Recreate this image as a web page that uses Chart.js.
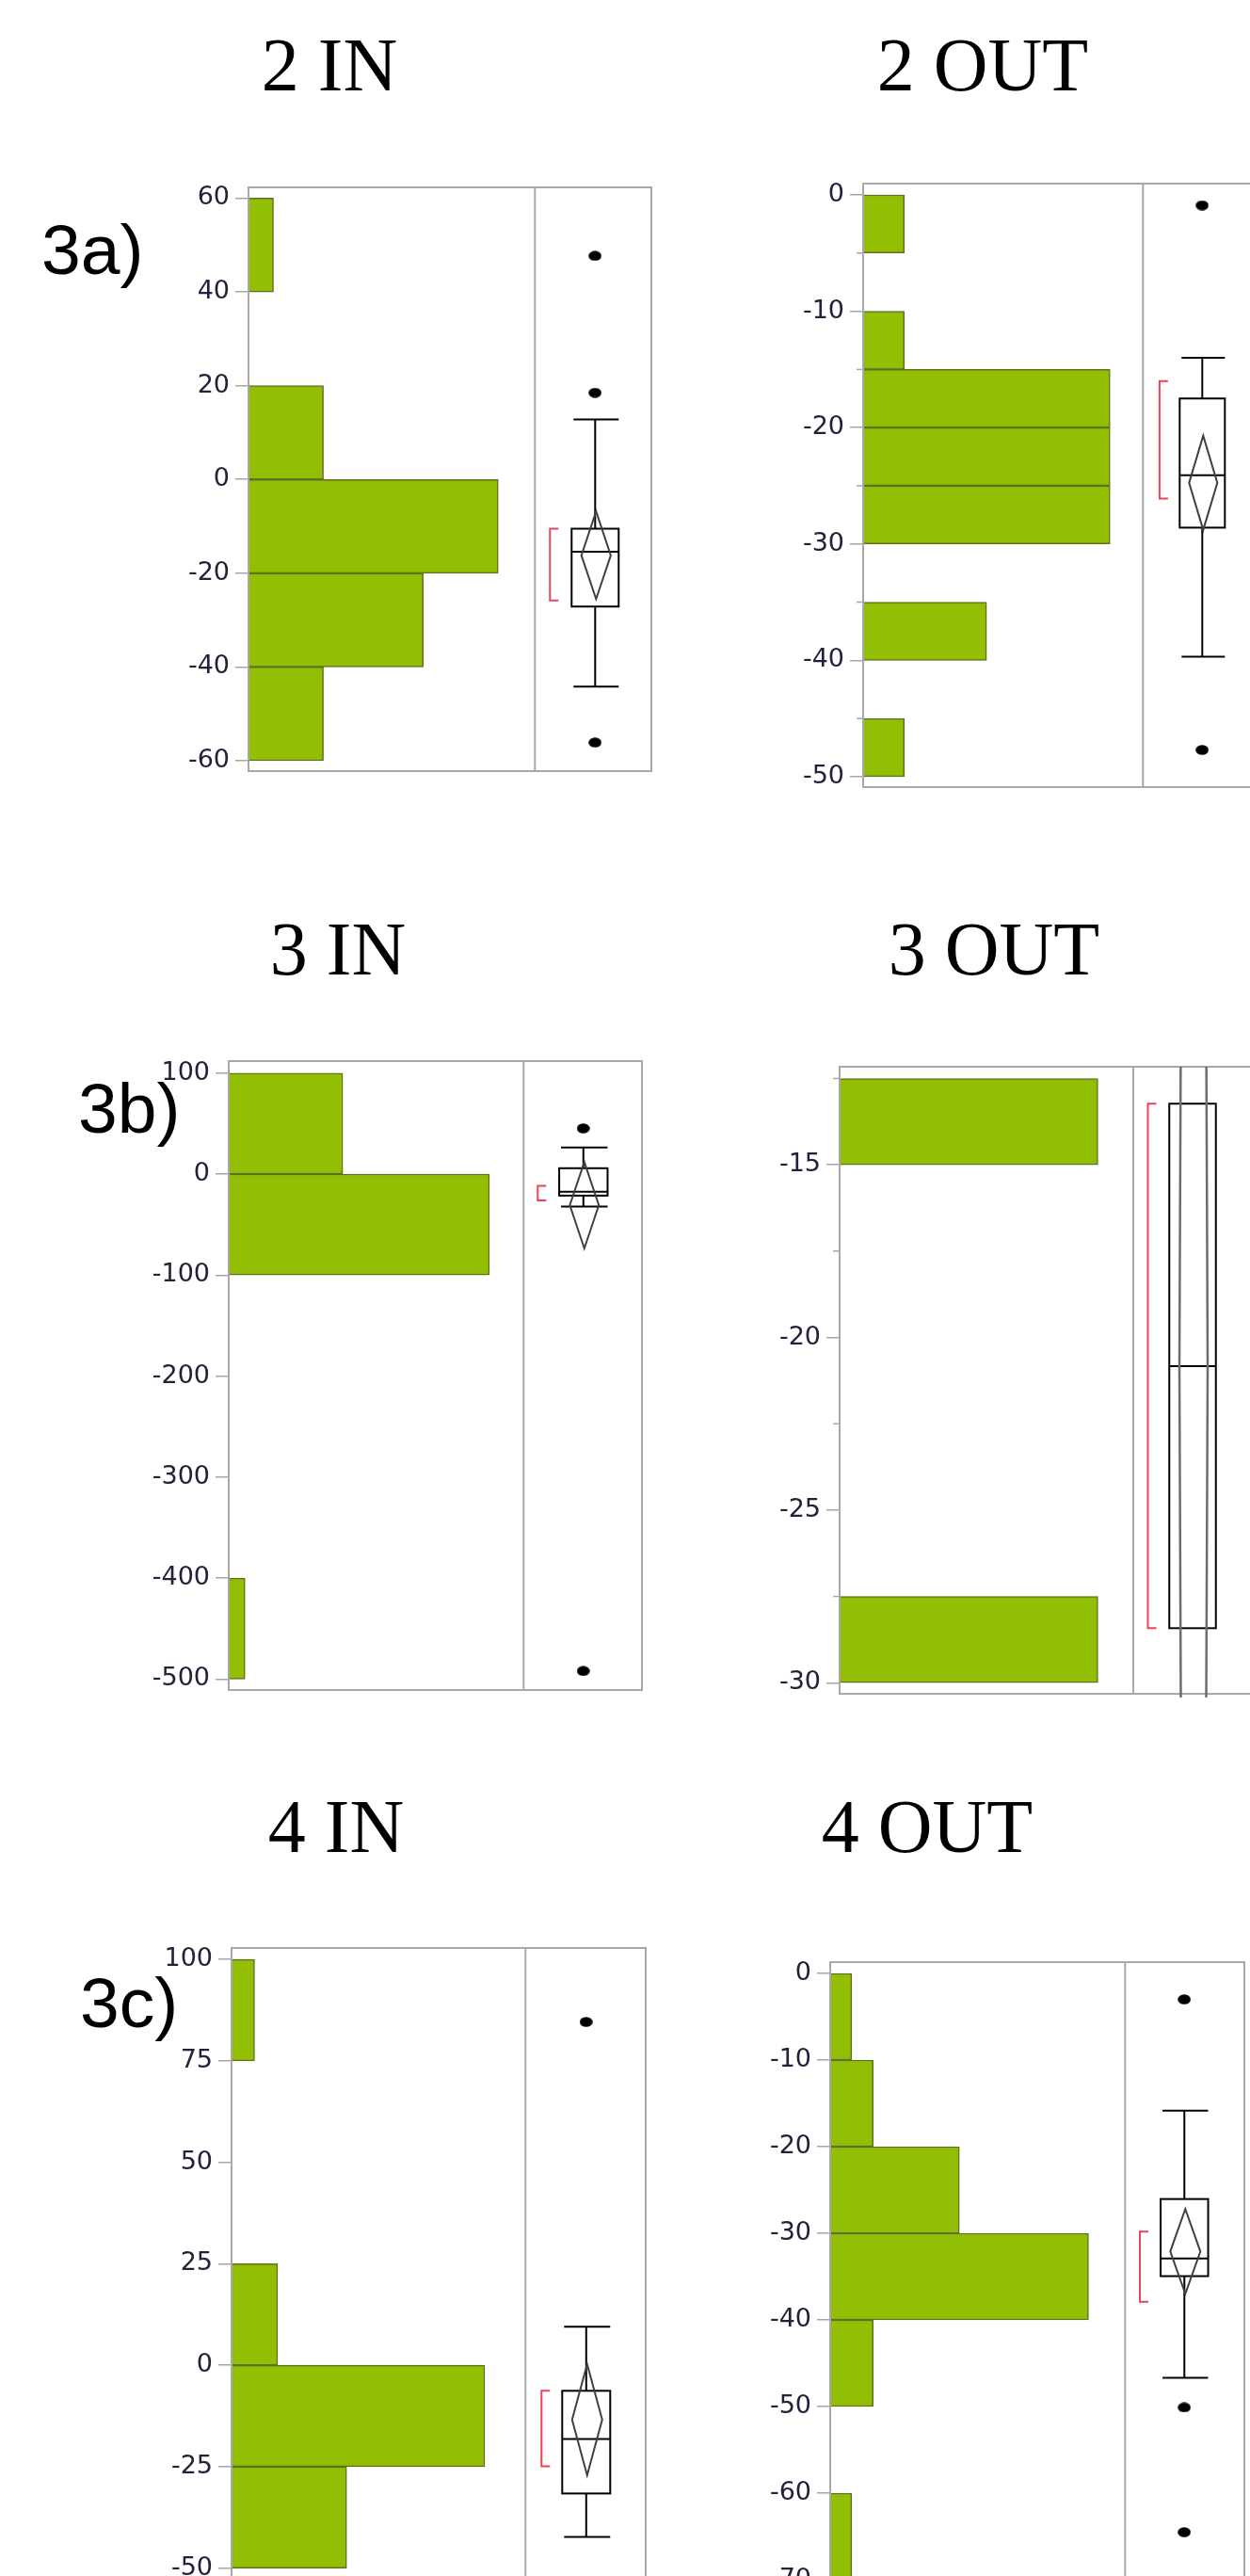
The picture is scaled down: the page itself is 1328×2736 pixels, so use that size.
<!DOCTYPE html>
<html><head><meta charset="utf-8">
<script src="https://cdn.jsdelivr.net/npm/chart.js@4.4.0/dist/chart.umd.min.js"></script>
<style>
html,body{margin:0;padding:0;background:#fff;width:1328px;height:2736px;overflow:hidden;position:relative}
canvas{position:absolute;display:block}
.title{position:absolute;width:400px;text-align:center;font-family:"Liberation Serif",serif;font-size:80px;line-height:80px;color:#000;white-space:nowrap;z-index:4}
.lab{position:absolute;font-family:"Liberation Sans",sans-serif;font-size:75px;line-height:75px;color:#000;white-space:nowrap;z-index:5}
</style></head><body>
<script>
// ---------------- DATA ----------------
const panelTitles = ['2 IN', '2 OUT', '3 IN', '3 OUT', '4 IN', '4 OUT'];
const panelLabels = ['3a)', '3b)', '3c)'];

// 2 IN
const in2BinCenters = [50, 30, 10, -10, -30, -50];
const in2Counts     = [1, 0, 3, 10, 7, 3];
const in2Ticks      = [60, 40, 20, 0, -20, -40, -60];
const in2Outliers   = [47.7, 18.5, -56.1];
const in2Box        = [-44.2, -27.1, -15.4, -10.5, 12.8];   // whisker low, Q1, median, Q3, whisker high
const in2Mean       = [-25.5, -16.2, -6.8];                 // diamond low, mean, diamond high
const in2Shortest   = [-25.8, -10.5];

// 2 OUT
const out2BinCenters = [-2.5, -7.5, -12.5, -17.5, -22.5, -27.5, -32.5, -37.5, -42.5, -47.5];
const out2Counts     = [1, 0, 1, 6, 6, 6, 0, 3, 0, 1];
const out2Ticks      = [0, -10, -20, -30, -40, -50];
const out2MinorTicks = [-5, -15, -25, -35, -45];
const out2Outliers   = [-0.9, -47.7];
const out2Box        = [-39.7, -28.6, -24.1, -17.5, -14.0];
const out2Mean       = [-28.8, -24.75, -20.7];
const out2Shortest   = [-26.1, -16.0];

// 3 IN
const in3BinCenters = [50, -50, -150, -250, -350, -450];
const in3Counts     = [7, 16, 0, 0, 0, 1];
const in3Ticks      = [100, 0, -100, -200, -300, -400, -500];
const in3Outliers   = [45.3, -492];
const in3Box        = [-32.2, -21.3, -17.4, 5.8, 26.3];
const in3Mean       = [-73.6, -30.8, 12];
const in3Shortest   = [-26, -11.7];

// 3 OUT
const out3BinCenters = [-13.75, -16.25, -18.75, -21.25, -23.75, -26.25, -28.75];
const out3Counts     = [1, 0, 0, 0, 0, 0, 1];
const out3Ticks      = [-15, -20, -25, -30];
const out3MinorTicks = [-12.5, -17.5, -22.5, -27.5];
const out3Outliers   = [];
const out3Box        = [-28.42, -28.42, -20.83, -13.23, -13.23];
const out3Mean       = [-117.3, -20.83, 75.7];
const out3Shortest   = [-28.42, -13.23];

// 4 IN
const in4BinCenters = [87.5, 62.5, 37.5, 12.5, -12.5, -37.5, -62.5];
const in4Counts     = [1, 0, 0, 2, 11, 5, 0];
const in4Ticks      = [100, 75, 50, 25, 0, -25, -50, -75];
const in4Outliers   = [84.6];
const in4Box        = [-42.3, -31.6, -18.2, -6.3, 9.5];
const in4Mean       = [-27.1, -13.4, 0.25];
const in4Shortest   = [-24.9, -6.3];

// 4 OUT
const out4BinCenters = [-5, -15, -25, -35, -45, -55, -65];
const out4Counts     = [1, 2, 6, 12, 2, 0, 1];
const out4Ticks      = [0, -10, -20, -30, -40, -50, -60, -70];
const out4Outliers   = [-3.0, -50.1, -64.5];
const out4Box        = [-46.7, -34.95, -32.9, -26.05, -15.85];
const out4Mean       = [-37.0, -32.1, -27.2];
const out4Shortest   = [-37.9, -29.8];

// ---------------- LAYOUT (positions / sizes) ----------------
const AXIS_W = 90, PAD_T = 24, PAD_B = 24, PAD_R = 6;
const GREEN = '#92bf04', OLIVE = '#5f7021', FRAME = '#a8a8a8';

const panels = [
  {title:0, centers:in2BinCenters, counts:in2Counts, ticks:in2Ticks, minor:[], outliers:in2Outliers, box:in2Box, mean:in2Mean, shortest:in2Shortest,
   l:264, t:199, r:693, b:819, d:569, yMin:-62.2, yMax:62.3, histMax:11.47, off:64, half:25, dia:15.6, br:16},
  {title:1, centers:out2BinCenters, counts:out2Counts, ticks:out2Ticks, minor:out2MinorTicks, outliers:out2Outliers, box:out2Box, mean:out2Mean, shortest:out2Shortest,
   l:917, t:195, r:1339, b:836, d:1215, yMin:-50.9, yMax:0.97, histMax:6.8, off:63, half:24, dia:15, br:17.6},
  {title:2, centers:in3BinCenters, counts:in3Counts, ticks:in3Ticks, minor:[], outliers:in3Outliers, box:in3Box, mean:in3Mean, shortest:in3Shortest,
   l:243, t:1127, r:683, b:1795, d:557, yMin:-510.9, yMax:111.9, histMax:18.1, off:63.5, half:25.7, dia:15.4, br:15},
  {title:3, centers:out3BinCenters, counts:out3Counts, ticks:out3Ticks, minor:out3MinorTicks, outliers:out3Outliers, box:out3Box, mean:out3Mean, shortest:out3Shortest,
   l:892, t:1133, r:1330, b:1799, d:1204, yMin:-30.32, yMax:-12.16, histMax:1.137, off:63, half:24.75, dia:15, br:15.5, clipDiamond:true},
  {title:4, centers:in4BinCenters, counts:in4Counts, ticks:in4Ticks, minor:[], outliers:in4Outliers, box:in4Box, mean:in4Mean, shortest:in4Shortest,
   l:246, t:2069, r:687, b:2857, d:559, yMin:-80, yMax:102.8, histMax:12.77, off:64.5, half:25.5, dia:16, br:17},
  {title:5, centers:out4BinCenters, counts:out4Counts, ticks:out4Ticks, minor:[], outliers:out4Outliers, box:out4Box, mean:out4Mean, shortest:out4Shortest,
   l:882, t:2084, r:1323, b:2832, d:1196, yMin:-80, yMax:1.3, histMax:13.7, off:63, half:25.25, dia:16, br:15.7}
];

const titlePos = [ {cx:350, base:96}, {cx:1044, base:96}, {cx:359, base:1035}, {cx:1056, base:1035}, {cx:357, base:1967}, {cx:985, base:1967} ];
const labelPos = [ {x:44, base:291}, {x:83, base:1203}, {x:85, base:2153} ];

// dot image for outliers
const dot = document.createElement('canvas');
dot.width = 14; dot.height = 11;
{ const c = dot.getContext('2d'); c.fillStyle = '#000'; c.beginPath(); c.ellipse(7, 5.5, 6.8, 5.3, 0, 0, Math.PI*2); c.fill(); }

const boxPlugin = {
  id: 'boxPlugin',
  afterDatasetsDraw(chart) {
    const p = chart.options.plugins.boxPlugin;
    const ctx = chart.ctx, a = chart.chartArea, ys = chart.scales.y, xs = chart.scales.x;
    const dx = xs.getPixelForValue(p.histMax);
    const cx = dx + p.off;
    ctx.save();
    // frame
    ctx.strokeStyle = FRAME; ctx.lineWidth = 2;
    ctx.strokeRect(a.left, a.top, a.right - a.left, a.bottom - a.top);
    ctx.beginPath(); ctx.moveTo(dx, a.top); ctx.lineTo(dx, a.bottom); ctx.stroke();
    // minor ticks
    ctx.lineWidth = 1.5;
    p.minor.forEach(v => { const y = ys.getPixelForValue(v); ctx.beginPath(); ctx.moveTo(a.left - 7, y); ctx.lineTo(a.left, y); ctx.stroke(); });
    // shortest half bracket
    const s0 = ys.getPixelForValue(p.shortest[0]), s1 = ys.getPixelForValue(p.shortest[1]);
    const bx = dx + p.br;
    ctx.strokeStyle = '#e8455a'; ctx.lineWidth = 2;
    ctx.beginPath(); ctx.moveTo(bx + 9, s1); ctx.lineTo(bx, s1); ctx.lineTo(bx, s0); ctx.lineTo(bx + 9, s0); ctx.stroke();
    // box and whiskers
    const [wl, q1, med, q3, wh] = p.box;
    const yWl = ys.getPixelForValue(wl), yQ1 = ys.getPixelForValue(q1), yMd = ys.getPixelForValue(med), yQ3 = ys.getPixelForValue(q3), yWh = ys.getPixelForValue(wh);
    ctx.strokeStyle = '#000'; ctx.lineWidth = 2;
    ctx.beginPath();
    if (wh !== q3) { ctx.moveTo(cx, yQ3); ctx.lineTo(cx, yWh); ctx.moveTo(cx - p.half + 2, yWh); ctx.lineTo(cx + p.half, yWh); }
    if (wl !== q1) { ctx.moveTo(cx, yQ1); ctx.lineTo(cx, yWl); ctx.moveTo(cx - p.half + 2, yWl); ctx.lineTo(cx + p.half, yWl); }
    ctx.stroke();
    ctx.strokeRect(cx - p.half, yQ3, 2 * p.half, yQ1 - yQ3);
    ctx.beginPath(); ctx.moveTo(cx - p.half, yMd); ctx.lineTo(cx + p.half, yMd); ctx.stroke();
    // mean diamond
    if (p.clipDiamond) { ctx.save(); ctx.beginPath(); ctx.rect(a.left, a.top, a.right - a.left, a.bottom - a.top + 4); ctx.clip(); }
    const yLo = ys.getPixelForValue(p.mean[0]), yMn = ys.getPixelForValue(p.mean[1]), yHi = ys.getPixelForValue(p.mean[2]);
    const dcx = cx + 1;
    ctx.strokeStyle = p.clipDiamond ? '#6e6e6e' : '#404040'; ctx.lineWidth = p.clipDiamond ? 2.5 : 2;
    ctx.beginPath(); ctx.moveTo(dcx, yHi); ctx.lineTo(dcx + p.dia, yMn); ctx.lineTo(dcx, yLo); ctx.lineTo(dcx - p.dia, yMn); ctx.closePath(); ctx.stroke();
    if (p.clipDiamond) ctx.restore();
    ctx.restore();
  }
};

panels.forEach(p => {
  const cl = p.l - AXIS_W, ct = p.t - PAD_T;
  const W = p.r - cl + PAD_R, H = p.b - p.t + PAD_T + PAD_B;
  const cv = document.createElement('canvas');
  cv.width = W; cv.height = H;
  cv.style.left = cl + 'px'; cv.style.top = ct + 'px';
  cv.style.width = W + 'px'; cv.style.height = H + 'px';
  document.body.appendChild(cv);
  const xMax = p.histMax * (p.r - p.l) / (p.d - p.l);
  const pxPerCount = (p.d - p.l) / p.histMax;
  const xOut = p.histMax + p.off / pxPerCount;
  new Chart(cv.getContext('2d'), {
    type: 'bar',
    data: { datasets: [
      { type: 'bar', indexAxis: 'y', data: p.centers.map((c, i) => ({ y: c, x: p.counts[i] })),
        backgroundColor: GREEN, borderColor: OLIVE, borderWidth: 1.5, borderSkipped: 'start',
        categoryPercentage: 1, barPercentage: 1 },
      { type: 'scatter', data: p.outliers.map(v => ({ x: xOut, y: v })),
        pointStyle: dot, pointRadius: 6, pointHoverRadius: 6 }
    ]},
    options: {
      responsive: false, animation: false, devicePixelRatio: 1,
      layout: { padding: { left: 0, right: PAD_R, top: PAD_T, bottom: PAD_B } },
      plugins: { legend: { display: false }, tooltip: { enabled: false }, title: { display: false },
        boxPlugin: { histMax: p.histMax, off: p.off, half: p.half, dia: p.dia, br: p.br, minor: p.minor,
                     box: p.box, mean: p.mean, shortest: p.shortest, clipDiamond: !!p.clipDiamond } },
      scales: {
        x: { type: 'linear', min: 0, max: xMax, display: false, offset: false, grid: { offset: false } },
        y: { type: 'linear', min: p.yMin, max: p.yMax, offset: false,
             afterBuildTicks: s => { s.ticks = p.ticks.map(v => ({ value: v })); },
             afterFit: s => { s.width = AXIS_W; },
             grid: { display: true, drawOnChartArea: false, drawTicks: true, tickLength: 14, color: '#a6a6a6', lineWidth: 1.5, offset: false },
             border: { display: false },
             ticks: { padding: 6, color: '#22223a', font: { family: 'DejaVu Sans', size: 27 }, callback: v => String(v), autoSkip: false } }
      }
    },
    plugins: [boxPlugin]
  });
});

titlePos.forEach((t, i) => {
  const d = document.createElement('div');
  d.className = 'title'; d.textContent = panelTitles[i];
  d.style.left = (t.cx - 200) + 'px'; d.style.top = (t.base - 67) + 'px';
  document.body.appendChild(d);
});
labelPos.forEach((t, i) => {
  const d = document.createElement('div');
  d.className = 'lab'; d.textContent = panelLabels[i];
  d.style.left = t.x + 'px'; d.style.top = (t.base - 63.5) + 'px';
  document.body.appendChild(d);
});
</script>
</body></html>
